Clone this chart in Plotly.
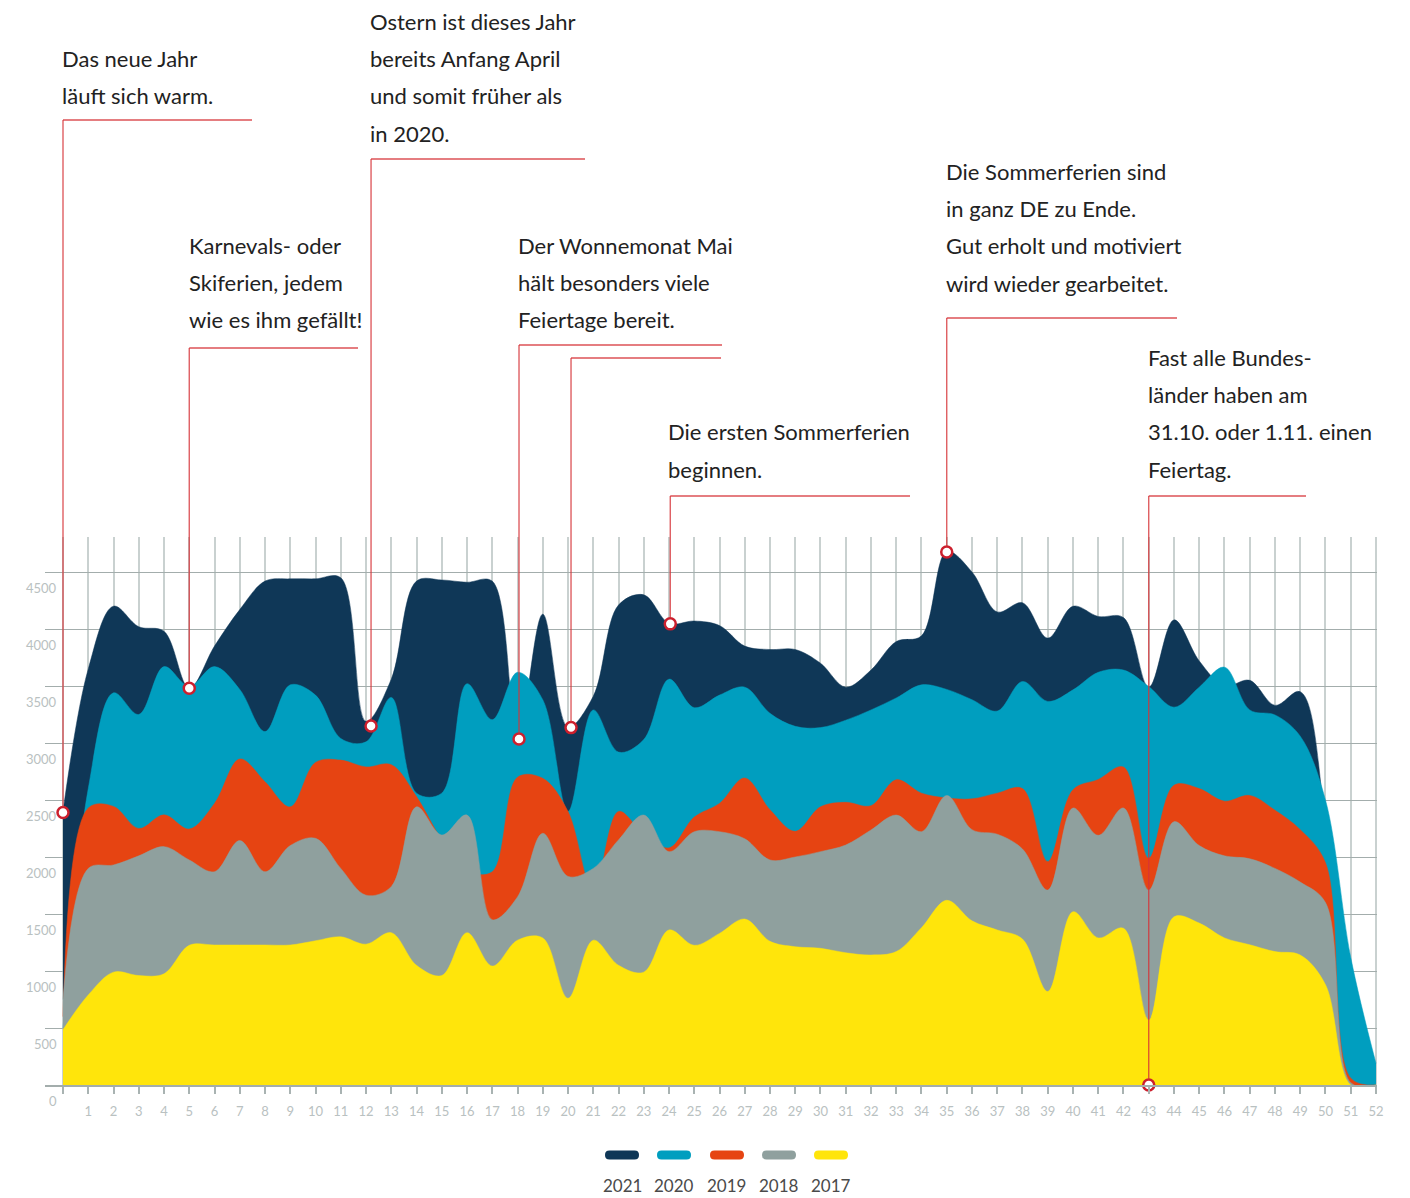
import plotly.graph_objects as go

# ---------------- data ----------------
weeks = list(range(53))
week_labels = [""] + [str(i) for i in range(1, 53)]

series_names = ["2021", "2020", "2019", "2018", "2017"]

y2021 = [2400, 3650, 4200, 4020, 3980, 3480, 3850, 4170, 4420, 4440,
         4440, 4450, 3190, 3560, 4420, 4430, 4410, 4420, 3050, 4130,
         3140, 3410, 4210, 4300, 4050, 4070, 4030, 3850, 3820, 3820,
         3700, 3490, 3640, 3890, 3940, 4680, 4500, 4150, 4230, 3920,
         4200, 4110, 4100, 3490, 4080, 3720, 3500, 3550, 3330, 3450,
         2300, 0, 0]
y2020 = [500, 2600, 3440, 3250, 3670, 3497, 3670, 3470, 3100, 3510,
         3420, 3040, 3010, 3400, 2560, 2560, 3520, 3205, 3620, 3380,
         2400, 3290, 2920, 3030, 3560, 3310, 3420, 3490, 3260, 3146,
         3135, 3200, 3290, 3395, 3510, 3470, 3380, 3280, 3540, 3365,
         3466, 3620, 3640, 3495, 3314, 3490, 3665, 3290, 3246, 3060,
         2500, 1120, 190]
y2019 = [600, 2430, 2444, 2250, 2370, 2245, 2470, 2860, 2660, 2440,
         2830, 2850, 2790, 2810, 2530, 2150, 1880, 1870, 2700, 2690,
         2400, 1700, 2400, 2200, 2080, 2350, 2470, 2693, 2415, 2225,
         2440, 2480, 2450, 2678, 2560, 2518, 2510, 2560, 2600, 1960,
         2590, 2680, 2790, 1990, 2630, 2600, 2490, 2540, 2410, 2240,
         1950, 60, 0]
y2018 = [750, 1900, 1930, 2010, 2091, 1974, 1871, 2144, 1871, 2100,
         2164, 1900, 1665, 1740, 2440, 2193, 2368, 1450, 1650, 2208,
         1830, 1900, 2150, 2368, 2047, 2222, 2222, 2160, 1974, 2000,
         2047, 2105, 2237, 2368, 2222, 2540, 2240, 2200, 2070, 1710,
         2430, 2190, 2430, 1710, 2310, 2100, 2010, 1985, 1900, 1780,
         1600, 20, 0]
y2017 = [485, 790, 990, 960, 975, 1225, 1228, 1228, 1228, 1228,
         1265, 1300, 1235, 1336, 1050, 960, 1336, 1043, 1270, 1290,
         760, 1270, 1050, 990, 1360, 1225, 1330, 1456, 1260, 1213,
         1199, 1160, 1140, 1170, 1380, 1620, 1440, 1360, 1280, 820,
         1520, 1290, 1375, 570, 1475, 1420, 1290, 1230, 1170, 1140,
         880, 0, 0]
series_values = [y2021, y2020, y2019, y2018, y2017]

y_ticks = [0, 500, 1000, 1500, 2000, 2500, 3000, 3500, 4000, 4500]

note_texts = [
    ["Das neue Jahr", "läuft sich warm."],
    ["Karnevals- oder", "Skiferien, jedem", "wie es ihm gefällt!"],
    ["Ostern ist dieses Jahr", "bereits Anfang April", "und somit früher als", "in 2020."],
    ["Der Wonnemonat Mai", "hält besonders viele", "Feiertage bereit."],
    ["Die ersten Sommerferien", "beginnen."],
    ["Die Sommerferien sind", "in ganz DE zu Ende.", "Gut erholt und motiviert", "wird wieder gearbeitet."],
    ["Fast alle Bundes-", "länder haben am", "31.10. oder 1.11. einen", "Feiertag."],
]
# marker points (week, value) and the note each belongs to
marker_weeks = [0, 5, 12.2, 18.06, 20.12, 24.05, 35, 43]
marker_values = [2390, 3480, 3150, 3035, 3135, 4045, 4675, 0]
marker_note = [0, 1, 2, 3, 3, 4, 5, 6]

# ---------------- layout / styling ----------------
colors = ["#0f3757", "#009ebf", "#e64412", "#8fa09e", "#ffe50b"]
FIG_W, FIG_H = 1410, 1198
L, R, T, B = 45, 1377, 537, 1085
W, H = R - L, B - T
X0, X1 = -0.7129, 52.04
Y0, Y1 = 0, 4807

note_left_px = [60, 187, 368, 516, 666, 944, 1146]
note_first_line_px = [58, 245, 21, 245, 432, 171, 357]
line_gap = 37.4
bar_y_px = [120, 348, 159, 345, 358, 496, 318, 496]
bar_x1_px = [252, 358, 585, 722, 721, 910, 1177, 1306]
leader_color = "rgba(214,50,55,0.85)"
marker_r = 5.5

legend_cx = [622, 674, 727, 779, 831]
legend_bar_y = 1155
legend_text_y = 1185


def px_x(px):
    return (px - L) / W


def px_y(py):
    return (B - py) / H


def week_px(w):
    return L + (w - X0) / (X1 - X0) * W


def val_py(v):
    return B - (v - Y0) / (Y1 - Y0) * H


fig = go.Figure()

for name, vals, col in zip(series_names, series_values, colors):
    fig.add_trace(go.Scatter(
        x=weeks, y=vals, name=name, mode="lines",
        line=dict(width=0.5, color=col, shape="spline", smoothing=1.0),
        fill="tozeroy", fillcolor=col, hoverinfo="skip", showlegend=False,
    ))

shapes = []
annotations = []

# leader lines
for i, (w, v) in enumerate(zip(marker_weeks, marker_values)):
    mx = week_px(w)
    my = val_py(v)
    by = bar_y_px[i]
    shapes.append(dict(type="line", xref="paper", yref="paper",
                       x0=px_x(mx), x1=px_x(mx), y0=px_y(by), y1=px_y(my - marker_r),
                       line=dict(color=leader_color, width=1.3), layer="above"))
    shapes.append(dict(type="line", xref="paper", yref="paper",
                       x0=px_x(mx), x1=px_x(bar_x1_px[i]), y0=px_y(by), y1=px_y(by),
                       line=dict(color=leader_color, width=1.3), layer="above"))

fig.add_trace(go.Scatter(
    x=marker_weeks, y=marker_values, mode="markers", cliponaxis=False,
    marker=dict(size=11, color="white", line=dict(color="#cc1f2d", width=2.5)),
    hoverinfo="skip", showlegend=False,
))

# note texts
for k, lines in enumerate(note_texts):
    for j, t in enumerate(lines):
        annotations.append(dict(
            text=t, xref="paper", yref="paper",
            x=px_x(note_left_px[k]), y=px_y(note_first_line_px[k] + j * line_gap),
            xanchor="left", yanchor="middle", showarrow=False,
            font=dict(family="Lato, Noto Sans, sans-serif", size=22, color="#222222"),
        ))

# y tick labels (placed below each grid line)
for v in y_ticks:
    annotations.append(dict(
        text=str(v), xref="paper", yref="y", x=px_x(59), y=v,
        xanchor="right", yanchor="top", yshift=-6, showarrow=False,
        font=dict(family="Lato, sans-serif", size=13, color="#b9c1c1"),
    ))


# legend
def rounded_bar(cx, cy, w, h):
    x0, x1 = cx - w / 2, cx + w / 2
    y0, y1 = cy - h / 2, cy + h / 2
    r = h / 2
    pts = [("M", (x0 + r, y0)), ("L", (x1 - r, y0)), ("Q", (x1, y0), (x1, cy)),
           ("Q", (x1, y1), (x1 - r, y1)), ("L", (x0 + r, y1)),
           ("Q", (x0, y1), (x0, cy)), ("Q", (x0, y0), (x0 + r, y0))]
    s = ""
    for seg in pts:
        s += seg[0] + " " + " ".join(f"{px_x(p[0]):.6f},{px_y(p[1]):.6f}" for p in seg[1:]) + " "
    return s + "Z"


for name, col, cx in zip(series_names, colors, legend_cx):
    shapes.append(dict(type="path", xref="paper", yref="paper",
                       path=rounded_bar(cx, legend_bar_y, 34, 9),
                       fillcolor=col, line=dict(width=0), layer="above"))
    annotations.append(dict(
        text=name, xref="paper", yref="paper", x=px_x(cx), y=px_y(legend_text_y),
        xanchor="center", yanchor="middle", showarrow=False,
        font=dict(family="Lato, sans-serif", size=17, color="#4a4a4a"),
    ))

fig.update_layout(
    width=FIG_W, height=FIG_H,
    margin=dict(l=L, r=FIG_W - R, t=T, b=FIG_H - B, pad=0),
    paper_bgcolor="white", plot_bgcolor="white",
    showlegend=False,
    shapes=shapes, annotations=annotations,
    xaxis=dict(
        range=[X0, X1], tickmode="array", tickvals=weeks, ticktext=week_labels,
        showgrid=True, gridcolor="#c9d1d0", gridwidth=1.6,
        ticks="outside", ticklen=7, tickwidth=1.5, tickcolor="#a9b3b2",
        showline=True, linecolor="#a3adac", linewidth=2,
        zeroline=False, ticklabelstandoff=6,
        tickfont=dict(family="Lato, sans-serif", size=13, color="#b9c1c1"),
        fixedrange=True,
    ),
    yaxis=dict(
        range=[Y0, Y1], tickmode="array", tickvals=y_ticks,
        showticklabels=False, showgrid=True, gridcolor="#a3adac", gridwidth=1,
        zeroline=False, ticks="", fixedrange=True,
    ),
)

fig.write_html(
    "out.html",
    config={"displayModeBar": False},
    post_script="document.body.style.margin='0';document.body.style.padding='0';"
                "document.documentElement.style.overflow='hidden';",
)
